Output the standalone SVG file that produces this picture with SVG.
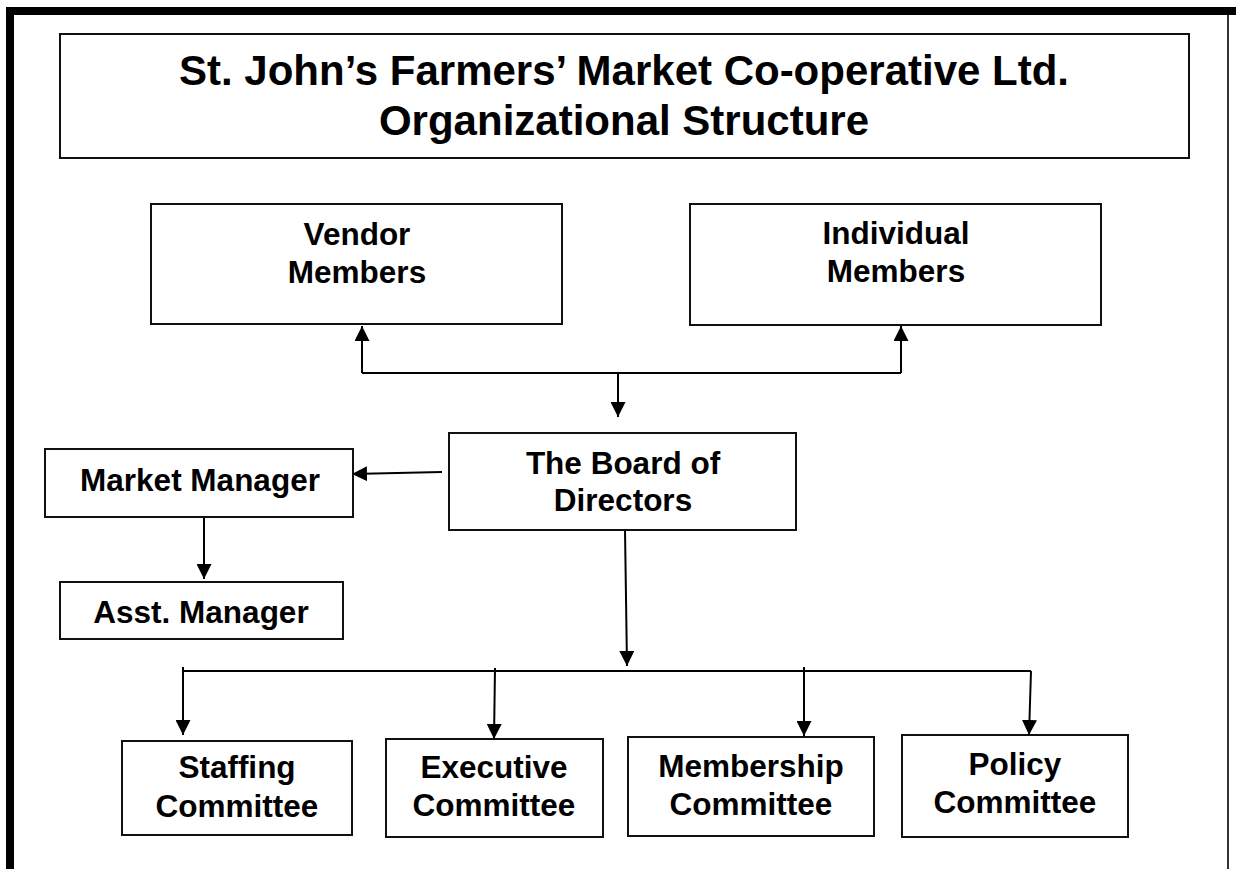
<svg xmlns="http://www.w3.org/2000/svg" width="1236" height="869" viewBox="0 0 1236 869">
  <style>
    .box { fill: #ffffff; stroke: #111111; stroke-width: 2; }
    .lbl { font-family: "Liberation Sans", Arial, sans-serif; font-weight: bold; font-size: 31.5px; fill: #000000; text-anchor: middle; }
    .ttl { font-family: "Liberation Sans", Arial, sans-serif; font-weight: bold; font-size: 42px; fill: #000000; text-anchor: middle; }
    .wire { fill: none; stroke: #000000; stroke-width: 2; }
  </style>
  <defs>
    <marker id="head" viewBox="0 0 16 16" refX="16" refY="8" markerWidth="15" markerHeight="15" markerUnits="userSpaceOnUse" orient="auto">
      <path d="M0,0 L16,8 L0,16 z" fill="#000000"/>
    </marker>
  </defs>

  <rect x="0" y="0" width="1236" height="869" fill="#ffffff"/>

  <!-- page frame -->
  <g id="frame">
    <path d="M10,869 V11 H1236" fill="none" stroke="#000000" stroke-width="8" stroke-linejoin="miter"/>
    <line x1="1228" y1="15" x2="1228" y2="869" stroke="#333333" stroke-width="2"/>
  </g>

  <!-- title -->
  <g id="title">
    <rect class="box" x="60" y="34" width="1129" height="124"/>
    <text class="ttl" x="624" y="85">St. John’s Farmers’ Market Co-operative Ltd.</text>
    <text class="ttl" x="624" y="135">Organizational Structure</text>
  </g>

  <!-- connectors -->
  <g id="connectors">
    <path class="wire" d="M362,373 V326" marker-end="url(#head)"/>
    <path class="wire" d="M901,373 V326" marker-end="url(#head)"/>
    <path class="wire" d="M362,373 H901"/>
    <path class="wire" d="M618,373 V417" marker-end="url(#head)"/>
    <path class="wire" d="M442,472 L352,474" marker-end="url(#head)"/>
    <path class="wire" d="M204,517 V579" marker-end="url(#head)"/>
    <path class="wire" d="M625,530 L627,666" marker-end="url(#head)"/>
    <path class="wire" d="M183,671 H1031"/>
    <path class="wire" d="M183,667 V735" marker-end="url(#head)"/>
    <path class="wire" d="M495,668 L494,739" marker-end="url(#head)"/>
    <path class="wire" d="M804,667 V736" marker-end="url(#head)"/>
    <path class="wire" d="M1031,671 L1029,735" marker-end="url(#head)"/>
  </g>

  <g id="vendor-members">
    <rect class="box" x="151" y="204" width="411" height="120"/>
    <text class="lbl" x="357" y="245">Vendor</text>
    <text class="lbl" x="357" y="283">Members</text>
  </g>

  <g id="individual-members">
    <rect class="box" x="690" y="204" width="411" height="121"/>
    <text class="lbl" x="896" y="244">Individual</text>
    <text class="lbl" x="896" y="282">Members</text>
  </g>

  <g id="board">
    <rect class="box" x="449" y="433" width="347" height="97"/>
    <text class="lbl" x="623" y="474">The Board of</text>
    <text class="lbl" x="623" y="511">Directors</text>
  </g>

  <g id="market-manager">
    <rect class="box" x="45" y="449" width="308" height="68"/>
    <text class="lbl" x="200" y="491">Market Manager</text>
  </g>

  <g id="asst-manager">
    <rect class="box" x="60" y="582" width="283" height="57"/>
    <text class="lbl" x="201" y="623">Asst. Manager</text>
  </g>

  <g id="staffing-committee">
    <rect class="box" x="122" y="741" width="230" height="94"/>
    <text class="lbl" x="237" y="778">Staffing</text>
    <text class="lbl" x="237" y="817">Committee</text>
  </g>

  <g id="executive-committee">
    <rect class="box" x="386" y="739" width="217" height="98"/>
    <text class="lbl" x="494" y="778">Executive</text>
    <text class="lbl" x="494" y="816">Committee</text>
  </g>

  <g id="membership-committee">
    <rect class="box" x="628" y="737" width="246" height="99"/>
    <text class="lbl" x="751" y="777">Membership</text>
    <text class="lbl" x="751" y="815">Committee</text>
  </g>

  <g id="policy-committee">
    <rect class="box" x="902" y="735" width="226" height="102"/>
    <text class="lbl" x="1015" y="775">Policy</text>
    <text class="lbl" x="1015" y="813">Committee</text>
  </g>
</svg>
